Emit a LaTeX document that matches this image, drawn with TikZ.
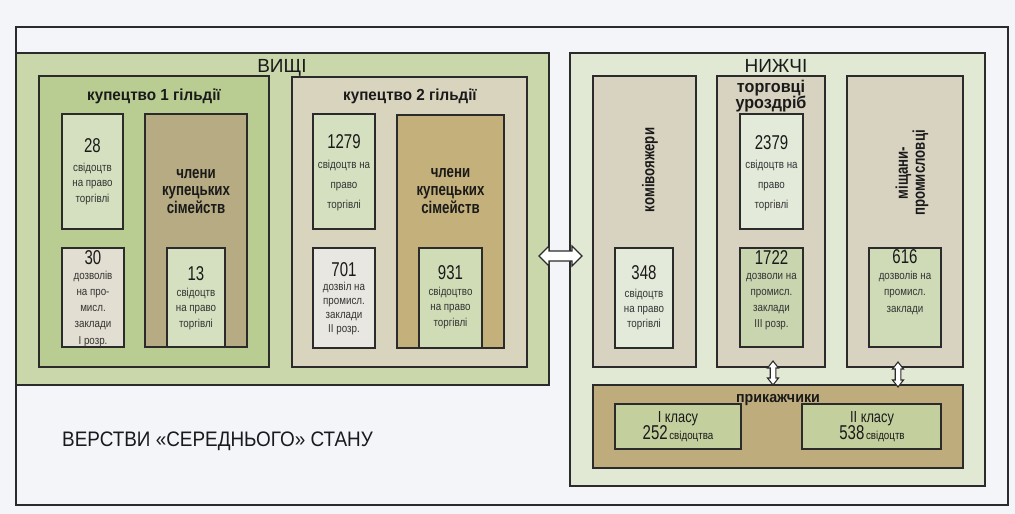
\documentclass[tikz,border=0pt]{standalone}
\usepackage{fontspec}
\setmainfont{Liberation Sans}
\newfontfamily\myfnum[FakeStretch=0.75]{Liberation Sans}
\newfontfamily\myfsm[FakeStretch=0.85]{Liberation Sans}
\newfontfamily\myfcond[FakeStretch=0.8]{Liberation Sans}
\newfontfamily\myfwide[FakeStretch=0.9]{Liberation Sans}
\newfontfamily\myfbt[FakeStretch=0.95]{Liberation Sans}
\newfontfamily\myfbm[FakeStretch=0.78]{Liberation Sans}
\usetikzlibrary{fit}
\definecolor{bgc}{HTML}{F3F5F8}
\definecolor{framec}{HTML}{F3F5F9}
\definecolor{cVis}{HTML}{C9D7AB}
\definecolor{cNyz}{HTML}{E1E9D5}
\definecolor{cKa}{HTML}{B9CC91}
\definecolor{cLg}{HTML}{D4E0BF}
\definecolor{cBeige}{HTML}{E2DED2}
\definecolor{cBra}{HTML}{B6AB82}
\definecolor{cKb}{HTML}{D9D4BE}
\definecolor{cBrb}{HTML}{C4B07A}
\definecolor{cGray}{HTML}{E9E7E1}
\definecolor{cGnine}{HTML}{CFDCB5}
\definecolor{cCol}{HTML}{D8D3C1}
\definecolor{cPale}{HTML}{E3EADA}
\definecolor{cGseven}{HTML}{C8D5AE}
\definecolor{cGsix}{HTML}{CFDBB7}
\definecolor{cPrik}{HTML}{BFAC7C}
\definecolor{cKl}{HTML}{C3CF9D}
\definecolor{lc}{HTML}{2B2B2B}
\definecolor{tc}{HTML}{1A1A1A}
\definecolor{tsc}{HTML}{333333}
\newcommand\bx[6]{\node[boxst, fill=#6, fit={(#2,#3) (#4,#5)}] (#1) {};}
\newcommand\lns[6]{\foreach \tline [count=\i] in {#6} {\node[#1] (#2-\i) at (#3,{#4+#5*(\i-1)}) {\tline};}}
\begin{document}
\begin{tikzpicture}[x=1pt,y=-1pt,
  boxst/.style={draw=lc, line width=1.3pt, inner sep=0pt},
  arr/.style={draw=lc, fill=white, line width=1.1pt, line join=miter},
  tbase/.style={inner sep=0pt, anchor=base, text=tc},
  tbig/.style={tbase, font=\fontsize{19}{22}\selectfont},
  tver/.style={tbase, anchor=base west, font=\myfwide\fontsize{21}{24}\selectfont},
  ttit/.style={tbase, font=\myfbt\bfseries\fontsize{16}{19}\selectfont},
  ttorg/.style={tbase, font=\myfbt\bfseries\fontsize{17}{19}\selectfont},
  tprik/.style={tbase, font=\myfbt\bfseries\fontsize{15}{18}\selectfont},
  tmem/.style={tbase, font=\myfbm\bfseries\fontsize{17}{17}\selectfont},
  trot/.style={inner sep=0pt, text=tc, rotate=90, align=center, font=\myfbm\bfseries\fontsize{17}{17}\selectfont},
  tnum/.style={tbase, font=\myfnum\fontsize{20}{24}\selectfont},
  tsm/.style={tbase, text=tsc, font=\myfsm\fontsize{11.5}{14}\selectfont},
  tkl/.style={tbase, font=\myfcond\fontsize{16}{19}\selectfont}
]
\useasboundingbox (0,0) rectangle (1015,514);
\fill[bgc] (0,0) rectangle (1015,514);
% frame
\node[boxst, line width=1.8pt, fill=framec, fit={(16,27) (1008,505)}] (frame) {};
% main panels
\bx{pVis}{16}{53}{549}{385}{cVis}
\bx{pNyz}{570}{53}{985}{486}{cNyz}
% left side
\bx{kA}{39}{76}{269}{367}{cKa}
\bx{b28}{62}{114}{123}{229}{cLg}
\bx{b30}{62}{248}{124}{347}{cBeige}
\bx{bcA}{145}{114}{247}{347}{cBra}
\bx{b13}{167}{248}{225}{347}{cLg}
\bx{kB}{292}{77}{527}{367}{cKb}
\bx{b1279}{313}{114}{375}{229}{cLg}
\bx{bcB}{397}{115}{504}{348}{cBrb}
\bx{b701}{313}{248}{375}{348}{cGray}
\bx{b931}{419}{248}{482}{348}{cGnine}
% right side
\bx{bkom}{593}{76}{696}{367}{cCol}
\bx{b348}{615}{248}{673}{348}{cPale}
\bx{btorg}{717}{76}{825}{367}{cCol}
\bx{b2379}{740}{114}{803}{229}{cPale}
\bx{b1722}{740}{248}{803}{347}{cGseven}
\bx{bmis}{847}{76}{963}{367}{cCol}
\bx{b616}{869}{248}{941}{347}{cGsix}
\bx{bprik}{593}{385}{963}{468}{cPrik}
\bx{bkA}{615}{404}{741}{449}{cKl}
\bx{bkB}{802}{404}{941}{449}{cKl}
% titles
\node[tbig] (tVis) at (282,72) {ВИЩІ};
\node[tbig] (tNyz) at (776,72) {НИЖЧІ};
\node[tver] (tVer) at (62,446) {ВЕРСТВИ «СЕРЕДНЬОГО» СТАНУ};
\node[ttit] (tKA) at (154,100) {купецтво 1 гільдії};
\node[ttit] (tKB) at (410,100) {купецтво 2 гільдії};
\lns{tmem}{tcA}{196}{178}{17.5}{члени,купецьких,сімейств}
\lns{tmem}{tcB}{450.5}{177}{18}{члени,купецьких,сімейств}
% left boxes
\node[tnum] (n28) at (92.5,152) {28};
\lns{tsm}{s28}{92.5}{171}{15.5}{свідоцтв,на право,торгівлі}
\node[tnum] (n30) at (93,264) {30};
\lns{tsm}{s30}{93}{279}{16.3}{дозволів,на про-,мисл.,заклади,І розр.}
\node[tnum] (n13) at (196,280) {13};
\lns{tsm}{s13}{196}{296}{15.5}{свідоцтв,на право,торгівлі}
\node[tnum] (n1279) at (344,148) {1279};
\lns{tsm}{s1279}{344}{168}{20}{свідоцтв на,право,торгівлі}
\node[tnum] (n701) at (344,276) {701};
\lns{tsm}{s701}{344}{290}{14}{дозвіл на,промисл.,заклади,ІІ розр.}
\node[tnum] (n931) at (450.5,279) {931};
\lns{tsm}{s931}{450.5}{295}{15.5}{свідоцтво,на право,торгівлі}
% right boxes
\node[trot] (tKom) at (650,170) {комівояжери};
\node[tnum] (n348) at (644,279) {348};
\lns{tsm}{s348}{644}{297}{15}{свідоцтв,на право,торгівлі}
\lns{ttorg}{tTorg}{771}{92}{16}{торговці,уроздріб}
\node[tnum] (n2379) at (771.5,149) {2379};
\lns{tsm}{s2379}{771.5}{168}{20}{свідоцтв на,право,торгівлі}
\node[tnum] (n1722) at (771.5,264) {1722};
\lns{tsm}{s1722}{771.5}{279}{16.3}{дозволи на,промисл.,заклади,ІІІ розр.}
\node[trot] (tMis) at (912,173) {міщани-\\промисловці};
\node[tnum] (n616) at (905,263) {616};
\lns{tsm}{s616}{905}{279}{16.5}{дозволів на,промисл.,заклади}
\node[tprik] (tPrik) at (778,402) {прикажчики};
\node[tkl] (tKlA) at (678,422) {І класу};
\node[tbase] (tKlAn) at (678,439) {{\myfnum\fontsize{20}{24}\selectfont 252}\,{\myfsm\fontsize{11.5}{14}\selectfont свідоцтва}};
\node[tkl] (tKlB) at (872,422) {ІІ класу};
\node[tbase] (tKlBn) at (872,439) {{\myfnum\fontsize{20}{24}\selectfont 538}\,{\myfsm\fontsize{11.5}{14}\selectfont свідоцтв}};
% double arrows
\draw[arr, shift={(560.5,256)}] (-21.5,0) -- (-11.5,-10) -- (-11.5,-5) -- (11.5,-5) -- (11.5,-10) -- (21.5,0) -- (11.5,10) -- (11.5,5) -- (-11.5,5) -- (-11.5,10) -- cycle;
\draw[arr, shift={(773,373)}] (0,-12) -- (5.5,-5) -- (2.8,-5) -- (2.8,5) -- (5.5,5) -- (0,12) -- (-5.5,5) -- (-2.8,5) -- (-2.8,-5) -- (-5.5,-5) -- cycle;
\draw[arr, shift={(898,374.5)}] (0,-12.5) -- (5.5,-5.5) -- (2.8,-5.5) -- (2.8,5.5) -- (5.5,5.5) -- (0,12.5) -- (-5.5,5.5) -- (-2.8,5.5) -- (-2.8,-5.5) -- (-5.5,-5.5) -- cycle;
\end{tikzpicture}
\end{document}
